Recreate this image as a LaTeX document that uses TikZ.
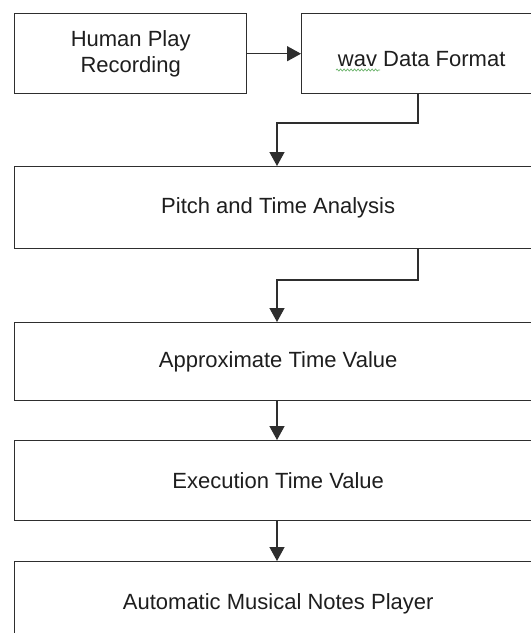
\documentclass[tikz,border=0pt]{standalone}
\usepackage{fontspec}
\setmainfont{Liberation Sans}
\usetikzlibrary{arrows.meta,decorations.pathmorphing}
\definecolor{linec}{HTML}{2E2E2E}
\definecolor{textc}{HTML}{1E1E1E}
\definecolor{spellg}{HTML}{6BB36B}
\tikzset{
  box/.style={draw=linec, line width=1.4pt, rectangle, anchor=north west,
    inner sep=0pt, align=center, text=textc,
    font=\fontsize{22}{26}\selectfont},
  conn/.style={draw=linec, line width=1.4pt,
    -{Triangle[length=14pt,width=15pt]}},
}
\begin{document}
\begin{tikzpicture}[x=1pt,y=-1pt]
\useasboundingbox (0,0) rectangle (531,633);
\clip (0,0) rectangle (531,633);
\fill[white] (0,0) rectangle (531,633);
\node[box, minimum width=232pt, minimum height=80pt] (b1) at (14,13) {Human Play\\Recording};
\node[box, minimum width=240pt, minimum height=80pt, text height=26pt, text depth=0pt] (b2) at (301,13) {wav Data Format};
\node[box, minimum width=527pt, minimum height=82pt] (b3) at (14,166) {Pitch and Time Analysis};
\node[box, minimum width=527pt, minimum height=78pt] (b4) at (14,322) {Approximate Time Value};
\node[box, minimum width=527pt, minimum height=80pt] (b5) at (14,440) {Execution Time Value};
\node[box, minimum width=527pt, minimum height=84pt] (b6) at (14,561) {Automatic Musical Notes Player};
% spell-check underline
\draw[spellg, line width=0.7pt, decorate, decoration={snake, segment length=3.5pt, amplitude=1pt}] (336,70) -- (380,70);
% connectors
\draw[conn] (b1.east) -- (b2.west);
\coordinate (k1) at (418,123);
\coordinate (k2) at (277,123);
\draw[conn] (b2.south -| k1) -- (k1) -- (k2) -- (b3.north -| k2);
\coordinate (k3) at (418,280);
\coordinate (k4) at (277,280);
\draw[conn] (b3.south -| k3) -- (k3) -- (k4) -- (b4.north -| k4);
\draw[conn] (b4.south -| k4) -- (b5.north -| k4);
\draw[conn] (b5.south -| k4) -- (b6.north -| k4);
\end{tikzpicture}
\end{document}
